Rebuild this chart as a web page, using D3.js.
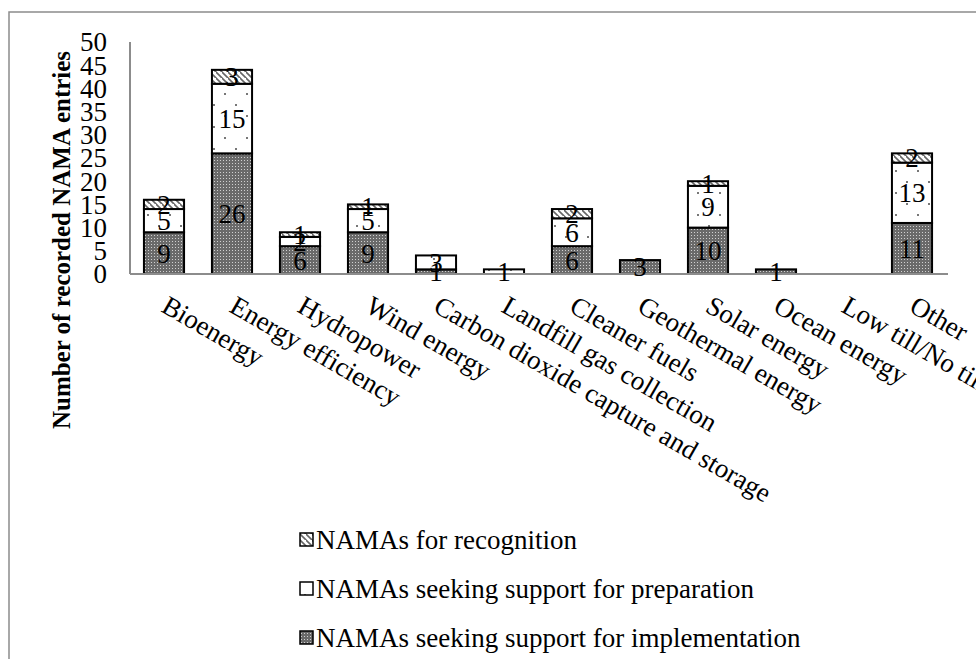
<!DOCTYPE html>
<html>
<head>
<meta charset="utf-8">
<style>
body { margin: 0; background: #fff; }
svg { display: block; }
text { font-family: "Liberation Serif", "Times New Roman", serif; fill: #000; }
</style>
</head>
<body>
<svg width="976" height="659"></svg>
<script src="https://d3js.org/d3.v7.min.js"></script>
<script>
// categories and stacked series (bottom to top)
var categories = ["Bioenergy", "Energy efficiency", "Hydropower", "Wind energy",
  "Carbon dioxide capture and storage", "Landfill gas collection", "Cleaner fuels",
  "Geothermal energy", "Solar energy", "Ocean energy", "Low till/No till", "Other"];
var implementation = [9, 26, 6, 9, 1, 0, 6, 3, 10, 1, 0, 11];
var preparation    = [5, 15, 2, 5, 3, 1, 6, 0, 9, 0, 0, 13];
var recognition    = [2, 3, 1, 1, 0, 0, 2, 0, 1, 0, 0, 2];
var yTicks = [0, 5, 10, 15, 20, 25, 30, 35, 40, 45, 50];

var seriesNames = ["NAMAs seeking support for implementation",
  "NAMAs seeking support for preparation", "NAMAs for recognition"];
var seriesKeys = ["impl", "prep", "recog"];

var svg = d3.select("svg");
var defs = svg.append("defs");

// dense gray pattern
var p1 = defs.append("pattern").attr("id", "pat-impl")
  .attr("patternUnits", "userSpaceOnUse").attr("width", 3).attr("height", 3);
p1.append("rect").attr("width", 3).attr("height", 3).attr("fill", "#6a6a6a");
p1.append("rect").attr("x", 1).attr("y", 1).attr("width", 1).attr("height", 1).attr("fill", "#d0d0d0");

// sparse dots
var p2 = defs.append("pattern").attr("id", "pat-prep")
  .attr("patternUnits", "userSpaceOnUse").attr("width", 22).attr("height", 22);
p2.append("rect").attr("width", 22).attr("height", 22).attr("fill", "#fff");
p2.append("rect").attr("x", 4).attr("y", 5).attr("width", 2).attr("height", 2).attr("fill", "#777");
p2.append("rect").attr("x", 15).attr("y", 16).attr("width", 2).attr("height", 2).attr("fill", "#777");

// diagonal hatch
var p3 = defs.append("pattern").attr("id", "pat-recog")
  .attr("patternUnits", "userSpaceOnUse").attr("width", 6).attr("height", 6);
p3.append("rect").attr("width", 6).attr("height", 6).attr("fill", "#fff");
p3.append("path").attr("d", "M-1,-1 L7,7 M-4,2 L2,8 M4,-4 L10,2")
  .attr("stroke", "#666").attr("stroke-width", 1.6);

// outer frame
svg.append("rect").attr("x", 9).attr("y", 12).attr("width", 1000).attr("height", 1000)
  .attr("fill", "none").attr("stroke", "#8c8c8c").attr("stroke-width", 1.5);

var x0 = 130, x1 = 946, yTop = 42, yBase = 274;
var fs = 27;

var x = d3.scaleBand().domain(categories).range([x0, x1]).paddingInner(0.41).paddingOuter(0.205);
var y = d3.scaleLinear().domain([0, 50]).range([yBase, yTop]);

var table = categories.map(function(c, i) {
  return { cat: c, impl: implementation[i], prep: preparation[i], recog: recognition[i] };
});
var stacked = d3.stack().keys(seriesKeys)(table);

// y axis labels
var yAxis = svg.append("g").attr("transform", "translate(" + x0 + ",0)")
  .call(d3.axisLeft(y).tickValues(yTicks).tickSize(0).tickPadding(23));
yAxis.select(".domain").remove();
yAxis.selectAll("text").style("font-family", "Liberation Serif, serif")
  .style("font-size", fs + "px").attr("fill", "#000").attr("dy", "0.33em");

svg.append("text")
  .attr("transform", "translate(70,240) rotate(-90)")
  .attr("text-anchor", "middle").attr("font-size", "25px").attr("font-weight", "bold")
  .text("Number of recorded NAMA entries");

// bars
var layers = svg.append("g").selectAll("g").data(stacked).enter().append("g")
  .attr("fill", function(d) { return "url(#pat-" + d.key + ")"; });
layers.selectAll("rect").data(function(d) { return d; }).enter()
  .filter(function(d) { return d[1] - d[0] > 0; })
  .append("rect")
  .attr("x", function(d) { return x(d.data.cat); })
  .attr("y", function(d) { return y(d[1]); })
  .attr("width", x.bandwidth())
  .attr("height", function(d) { return y(d[0]) - y(d[1]); })
  .attr("stroke", "#000").attr("stroke-width", 2);

// axes lines
svg.append("line").attr("x1", x0).attr("x2", x0).attr("y1", yTop).attr("y2", yBase)
  .attr("stroke", "#8c8c8c").attr("stroke-width", 2);
svg.append("line").attr("x1", x0).attr("x2", x1 + 2).attr("y1", yBase).attr("y2", yBase)
  .attr("stroke", "#8c8c8c").attr("stroke-width", 2);

// value labels
var lab = svg.append("g");
stacked.forEach(function(s) {
  s.forEach(function(d) {
    var v = d[1] - d[0];
    if (v <= 0) return;
    lab.append("text")
      .attr("x", x(d.data.cat) + x.bandwidth() / 2)
      .attr("y", y((d[0] + d[1]) / 2))
      .attr("dy", "0.35em").attr("text-anchor", "middle")
      .attr("font-size", fs + "px").text(v);
  });
});

// category labels
svg.append("g").selectAll("text").data(categories).enter().append("text")
  .attr("transform", function(d) {
    return "translate(" + (x(d) + x.bandwidth() / 2 - 4) + ",311) rotate(30)";
  })
  .attr("font-size", fs + "px").text(function(d) { return d; });

// legend (top to bottom: recognition, preparation, implementation)
var legendOrder = [2, 1, 0];
var leg = svg.append("g").selectAll("g").data(legendOrder).enter().append("g")
  .attr("transform", function(d, i) { return "translate(300," + (540 + i * 49) + ")"; });
leg.append("rect").attr("x", 0).attr("y", -7).attr("width", 13).attr("height", 13)
  .attr("fill", function(d) { return "url(#pat-" + seriesKeys[d] + ")"; })
  .attr("stroke", "#000").attr("stroke-width", 1.5);
leg.append("text").attr("x", 16).attr("y", 0).attr("dy", "0.35em")
  .attr("font-size", fs + "px").text(function(d) { return seriesNames[d]; });
</script>
</body>
</html>
